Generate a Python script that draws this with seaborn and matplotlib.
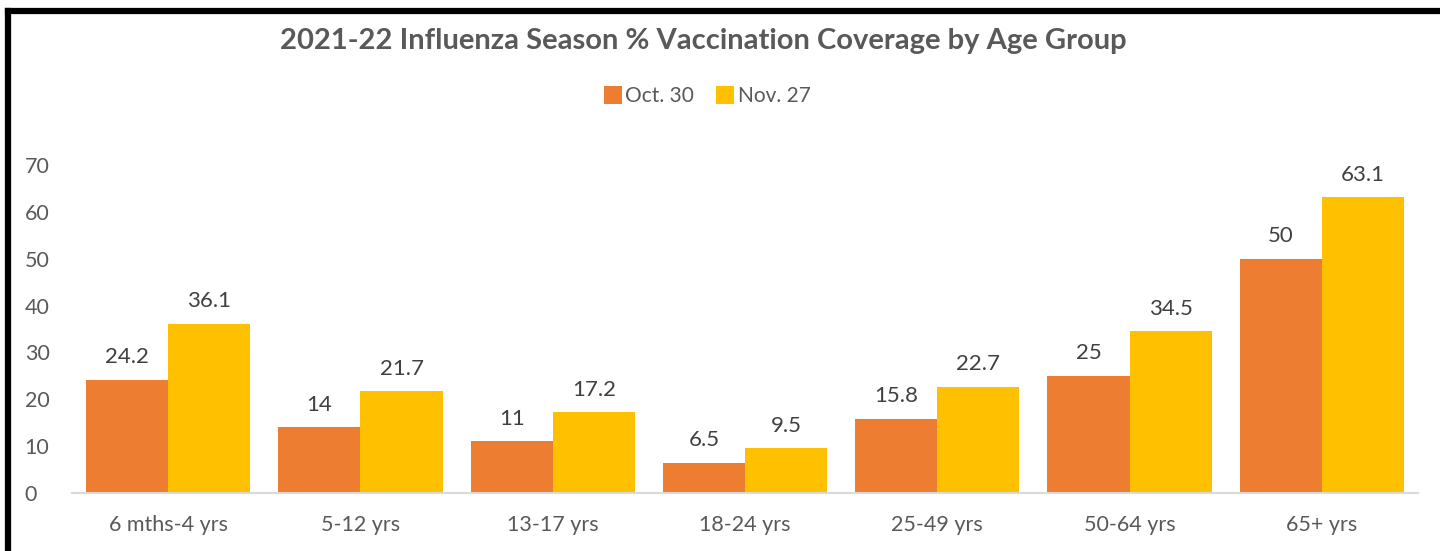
import matplotlib
matplotlib.use("Agg")
import matplotlib.pyplot as plt
import seaborn as sns
import pandas as pd
from matplotlib.lines import Line2D

categories = ["6 mths-4 yrs", "5-12 yrs", "13-17 yrs", "18-24 yrs", "25-49 yrs", "50-64 yrs", "65+ yrs"]
series_names = ["Oct. 30", "Nov. 27"]
oct30 = [24.2, 14, 11, 6.5, 15.8, 25, 50]
nov27 = [36.1, 21.7, 17.2, 9.5, 22.7, 34.5, 63.1]
yticks = [0, 10, 20, 30, 40, 50, 60, 70]
colors = ["#ED7D31", "#FFC000"]

df = pd.DataFrame({
    "group": categories * 2,
    "series": [series_names[0]] * len(categories) + [series_names[1]] * len(categories),
    "value": oct30 + nov27,
})

sns.set_theme(style="white")
plt.rcParams['font.family'] = ['Lato', 'DejaVu Sans']
text_color = "#595959"

fig = plt.figure(figsize=(14.4, 5.51), dpi=100)
ax = fig.add_axes([0.05, 0.1053, 0.9347, 0.5952])

sns.barplot(data=df, x="group", y="value", hue="series", palette=colors,
            width=0.855, saturation=1, ax=ax, legend=False, linewidth=0)

for cont in ax.containers:
    ax.bar_label(cont, fmt="%g", padding=9, fontsize=16, color="#404040")

ax.set_ylim(0, 70)
ax.set_yticks(yticks)
ax.set_xlim(-0.5, len(categories) - 0.5)
ax.set_xlabel("")
ax.set_ylabel("")
for s in ["top", "right", "left"]:
    ax.spines[s].set_visible(False)
ax.spines["bottom"].set_color("#D9D9D9")
ax.spines["bottom"].set_linewidth(1.5)
ax.tick_params(axis="both", length=0, labelsize=15.5, labelcolor=text_color)
ax.tick_params(axis="y", pad=34)
ax.tick_params(axis="x", pad=16)
for lbl in ax.get_yticklabels():
    lbl.set_horizontalalignment("left")

fig.text(0.4885, 0.925, "2021-22 Influenza Season % Vaccination Coverage by Age Group",
         ha="center", va="center", fontsize=21, fontweight="bold", color=text_color)

handles = [Line2D([0], [0], marker="s", linestyle="none", markersize=13,
                  markerfacecolor=c, markeredgewidth=0) for c in colors]
fig.legend(handles, series_names, loc="center", bbox_to_anchor=(0.4905, 0.826), ncol=2,
           frameon=False, fontsize=15, labelcolor=text_color, handletextpad=0.1,
           columnspacing=1.0, handlelength=1.0)

# black frame on left and top
fig.add_artist(Line2D([8 / 1440, 8 / 1440], [-0.1, 1 - 11 / 551], color="black",
                      linewidth=4.5, transform=fig.transFigure, solid_capstyle="projecting"))
fig.add_artist(Line2D([8 / 1440, 1.1], [1 - 11 / 551, 1 - 11 / 551], color="black",
                      linewidth=4.5, transform=fig.transFigure, solid_capstyle="projecting"))

fig.savefig("out.png", dpi=100, facecolor="white")
